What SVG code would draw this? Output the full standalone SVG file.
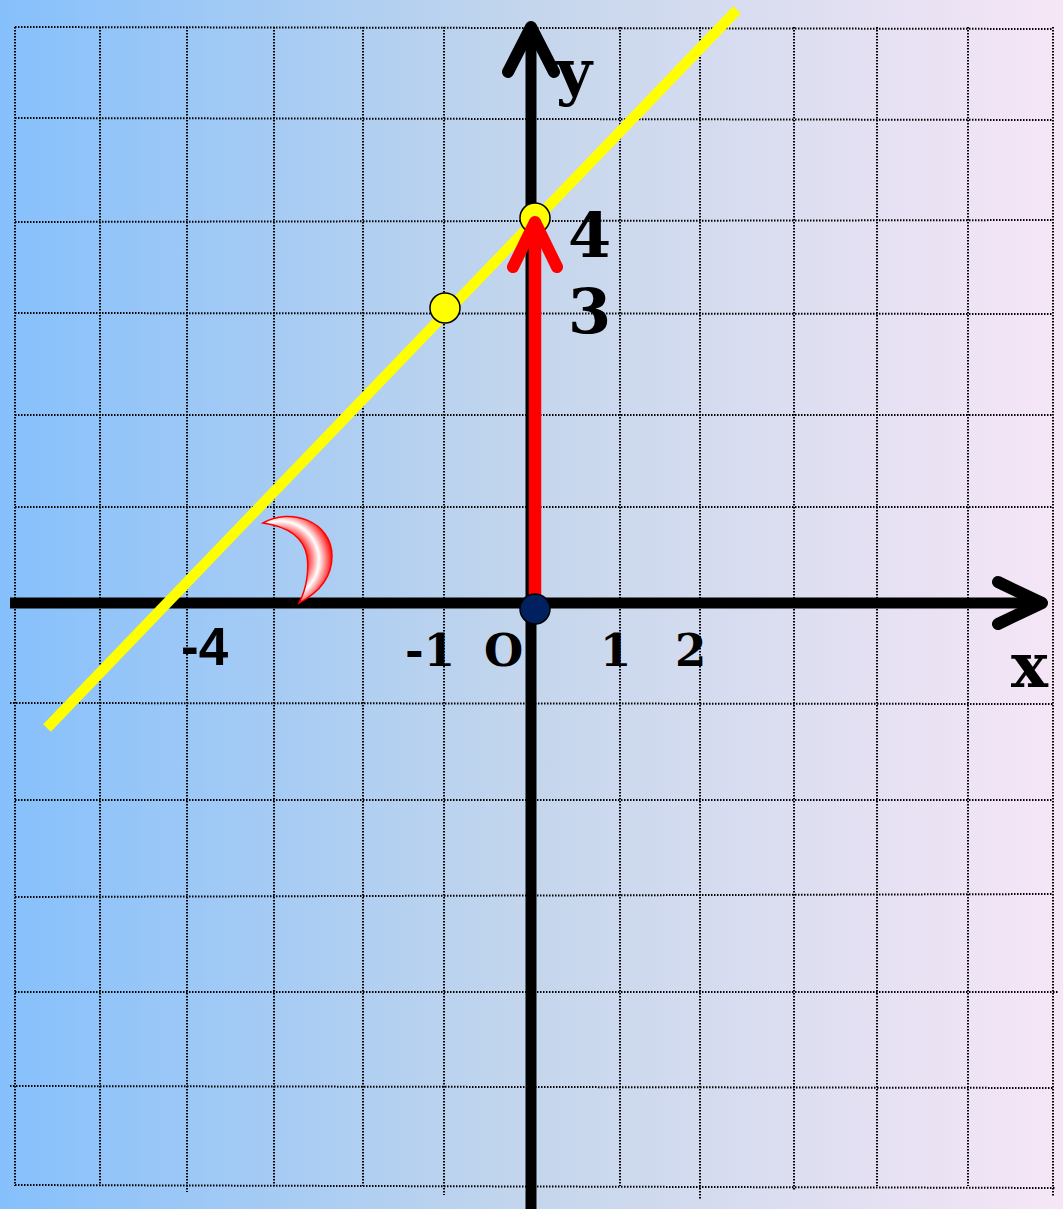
<svg xmlns="http://www.w3.org/2000/svg" width="1063" height="1209" viewBox="0 0 1063 1209">
<defs>
<linearGradient id="bg" x1="0" y1="0" x2="1" y2="0">
<stop offset="0" stop-color="#86C0FC"/>
<stop offset="0.5" stop-color="#C4D6EC"/>
<stop offset="1" stop-color="#F6E6F6"/>
</linearGradient>
<radialGradient id="cres" gradientUnits="userSpaceOnUse" cx="280" cy="560" r="54">
<stop offset="0.46" stop-color="#FF0000"/>
<stop offset="0.72" stop-color="#FFFFFF"/>
<stop offset="0.98" stop-color="#FF0000"/>
</radialGradient>
</defs>
<style>
.grid line{stroke:#000;stroke-width:2;stroke-dasharray:1.5 1.5;fill:none}
.axis{stroke:#000;stroke-width:11;fill:none}
.head{stroke:#000;stroke-width:12;fill:none;stroke-linecap:round;stroke-linejoin:round}
.lbl{font-family:"DejaVu Serif","Liberation Serif",serif;font-weight:bold;fill:#000}
.big{font-size:62px}
.small{font-size:45px}
</style>
<rect x="0" y="0" width="1063" height="1209" fill="url(#bg)"/>
<g id="grid" class="grid">
<line x1="15" y1="27" x2="15" y2="1186"/>
<line x1="100" y1="27" x2="100" y2="1186"/>
<line x1="187" y1="27" x2="187" y2="1192"/>
<line x1="274" y1="27" x2="274" y2="1186"/>
<line x1="363" y1="27" x2="363" y2="1186"/>
<line x1="444" y1="27" x2="444" y2="1195"/>
<line x1="620" y1="27" x2="620" y2="1186"/>
<line x1="700" y1="27" x2="700" y2="1200"/>
<line x1="794" y1="27" x2="794" y2="1190"/>
<line x1="877" y1="27" x2="877" y2="1186"/>
<line x1="968" y1="27" x2="968" y2="1186"/>
<line x1="1053" y1="27" x2="1053" y2="1196"/>
<line x1="15" y1="27" x2="1053" y2="29"/>
<line x1="15" y1="118" x2="1053" y2="120"/>
<line x1="15" y1="222" x2="1053" y2="220"/>
<line x1="15" y1="313" x2="1053" y2="314"/>
<line x1="15" y1="415" x2="1053" y2="415"/>
<line x1="15" y1="507" x2="1053" y2="507"/>
<line x1="10" y1="703" x2="1053" y2="704"/>
<line x1="15" y1="800" x2="1053" y2="800"/>
<line x1="15" y1="897" x2="1053" y2="894"/>
<line x1="15" y1="992" x2="1058" y2="992"/>
<line x1="10" y1="1086" x2="1053" y2="1088"/>
<line x1="15" y1="1185" x2="1056" y2="1188"/>
</g>
<g id="axes">
<g id="x-axis">
<line class="axis" x1="10" y1="603" x2="1040" y2="603"/>
<polyline class="head" points="998,582 1042,603 998,624"/>
</g>
<g id="y-axis">
<line class="axis" x1="531" y1="1209" x2="531" y2="30"/>
<polyline class="head" points="508,72 531,27 554,72"/>
</g>
</g>
<g id="connectors">
<line id="graph-line" x1="47" y1="728" x2="737" y2="10" stroke="#FFFF00" stroke-width="10.5"/>
</g>
<g id="angle">
<path d="M263,523 C290,507 332,521 332,556 C332,580 316,594 299,603 C307,588 309,570 307,556 C304,540 291,527 263,523 Z" fill="url(#cres)" stroke="#FF0000" stroke-width="1.5"/>
</g>
<g id="point-a">
<circle cx="445" cy="308" r="15" fill="#FFFF00" stroke="#000" stroke-width="1.5"/>
</g>
<g id="point-b">
<circle cx="535" cy="218" r="15" fill="#FFFF00" stroke="#000" stroke-width="1.5"/>
</g>
<g id="shift-arrow">
<line x1="535" y1="600" x2="535" y2="226" stroke="#FF0000" stroke-width="12.5"/>
<polyline points="513,267 535,222 557,267" fill="none" stroke="#FF0000" stroke-width="12" stroke-linecap="round" stroke-linejoin="round"/>
</g>
<g id="origin">
<circle cx="535" cy="609" r="15" fill="#002060" stroke="#000" stroke-width="1.5"/>
</g>
<g id="labels">
<text class="lbl big" x="556" y="93">y</text>
<text class="lbl big" x="1011" y="687">x</text>
<text class="lbl big" x="568" y="257">4</text>
<text class="lbl big" x="568" y="333">3</text>
<text x="181" y="665" font-family="'Liberation Sans',Arial,sans-serif" font-weight="bold" font-size="53">-4</text>
<text class="lbl small" x="405" y="666">-1</text>
<text class="lbl" x="484" y="666" font-size="45">O</text>
<text class="lbl small" x="600" y="666">1</text>
<text class="lbl small" x="675" y="666">2</text>
</g>
</svg>
